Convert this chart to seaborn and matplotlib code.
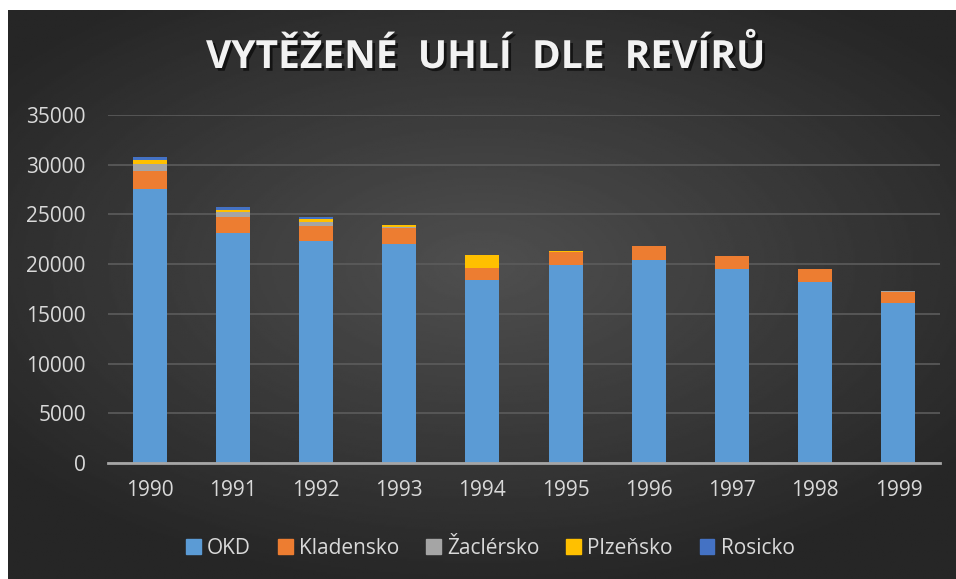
import numpy as np
import pandas as pd
import seaborn as sns
import matplotlib.pyplot as plt
import matplotlib.patheffects as pe

# data (thousand tonnes)
years = ['1990', '1991', '1992', '1993', '1994', '1995', '1996', '1997', '1998', '1999']
okd = [27600, 23150, 22350, 22050, 18450, 19900, 20450, 19500, 18250, 16100]
kladensko = [1800, 1550, 1500, 1580, 1200, 1350, 1350, 1300, 1250, 1080]
zaclersko = [650, 500, 420, 60, 0, 0, 0, 0, 0, 90]
plzensko = [430, 270, 280, 230, 1270, 60, 0, 0, 0, 0]
rosicko = [250, 280, 150, 0, 0, 0, 0, 0, 0, 0]

series = ['OKD', 'Kladensko', 'Žaclérsko', 'Plzeňsko', 'Rosicko']
colors = ['#5B9BD5', '#ED7D31', '#A5A5A5', '#FFC000', '#4472C4']

df = pd.DataFrame({'rok': years, 'OKD': okd, 'Kladensko': kladensko,
                   'Žaclérsko': zaclersko, 'Plzeňsko': plzensko, 'Rosicko': rosicko})
cum = df[series].cumsum(axis=1)
cum['rok'] = df['rok']

sns.set_theme(style='dark')
plt.rcParams['font.family'] = ['Open Sans', 'DejaVu Sans']

fig = plt.figure(figsize=(9.56, 5.79), dpi=100, facecolor='white')

# dark radial gradient background with thin white margin top/left
bg = fig.add_axes([8 / 956, 0, 1 - 8 / 956, 1 - 10 / 579])
yy, xx = np.mgrid[-1:1:300j, -1:1:500j]
r = np.sqrt((xx * 0.9) ** 2 + ((yy + 0.1) * 1.0) ** 2)
shade = np.clip(0.31 - 0.14 * r, 0.15, 0.31)
bg.imshow(shade, cmap='gray', vmin=0, vmax=1, aspect='auto', extent=[0, 1, 0, 1])
bg.set_axis_off()

ax = fig.add_axes([108 / 956, 1 - 463 / 579, (940 - 108) / 956, (463 - 115) / 579])
ax.set_facecolor('none')

# stacked bars: draw cumulative totals, tallest first
for name, col in reversed(list(zip(series, colors))):
    sns.barplot(data=cum, x='rok', y=name, color=col, width=0.41,
                saturation=1, ax=ax, zorder=3, linewidth=0, edgecolor='none')

ax.set_ylim(0, 35000)
ax.set_yticks(range(0, 35001, 5000))
ax.yaxis.grid(True, color='#5c5c5c', linewidth=1.2, zorder=0)
ax.xaxis.grid(False)
for s in ['top', 'right', 'left']:
    ax.spines[s].set_visible(False)
ax.spines['bottom'].set_color('#a6a6a6')
ax.spines['bottom'].set_linewidth(2)
ax.spines['bottom'].set_zorder(4)
ax.set_xlabel('')
ax.set_ylabel('')
ax.tick_params(axis='both', colors='#d9d9d9', labelsize=15, length=0)
ax.tick_params(axis='x', pad=12)
ax.tick_params(axis='y', pad=16)

fig.text(0.508, 1 - 57 / 579, 'VYTĚŽENÉ  UHLÍ  DLE  REVÍRŮ',
         ha='center', va='center', color='#f2f2f2', fontsize=28, fontweight='bold',
         path_effects=[pe.withSimplePatchShadow(offset=(2, -2), shadow_rgbFace='black', alpha=0.6)])

handles = [plt.Rectangle((0, 0), 1, 1, color=c) for c in colors]
fig.legend(handles, series, loc='center', bbox_to_anchor=(0.513, 1 - 548 / 579), ncol=5,
           frameon=False, fontsize=15, labelcolor='#d9d9d9', handlelength=0.7,
           handleheight=0.7, handletextpad=0.3, columnspacing=1.3)

fig.savefig('out.png', dpi=100, facecolor='white')
